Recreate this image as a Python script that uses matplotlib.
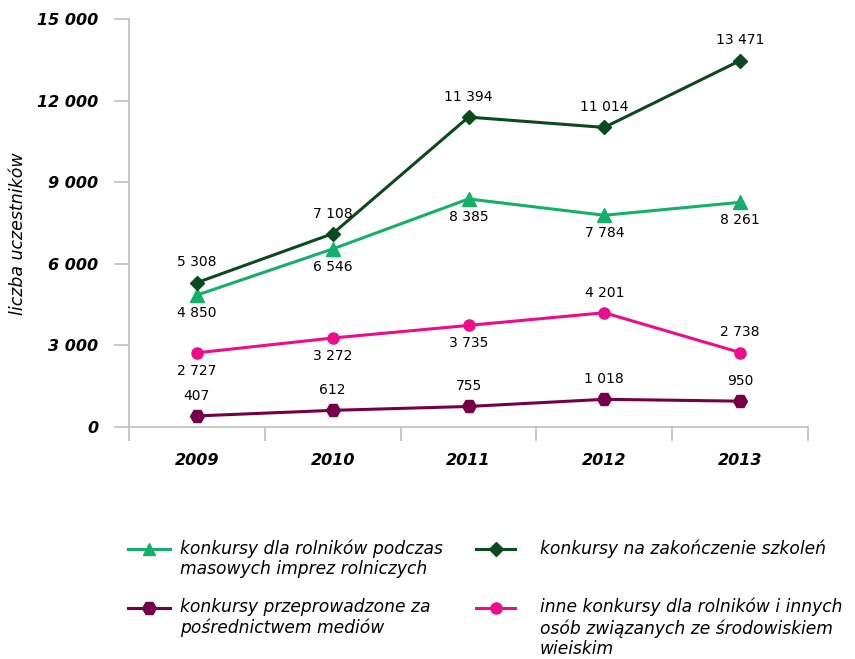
import numpy as np
import matplotlib.pyplot as plt
from matplotlib.lines import Line2D

# data
years = ['2009', '2010', '2011', '2012', '2013']
masowe = [4850, 6546, 8385, 7784, 8261]
szkolenia = [5308, 7108, 11394, 11014, 13471]
media = [407, 612, 755, 1018, 950]
inne = [2727, 3272, 3735, 4201, 2738]

yticks = [0, 3000, 6000, 9000, 12000, 15000]

plt.rcParams['font.family'] = ['DejaVu Sans']

c_light = '#14B06A'
c_dark = '#0B4A1C'
c_maroon = '#760048'
c_pink = '#EC0C8C'
c_axis = '#BFBFBF'

def fmt(v):
    return f'{v:,}'.replace(',', ' ')

fig = plt.figure(figsize=(8.55, 6.59), dpi=100)
ax = fig.add_axes([129 / 855, 1 - 427 / 659, 679 / 855, 408 / 659])

x = np.arange(len(years))

series = [
    (masowe, c_light, '^', 10, ['below'] * 5),
    (szkolenia, c_dark, 'D', 7, ['above'] * 5),
    (media, c_maroon, 'H', 10, ['above'] * 5),
    (inne, c_pink, 'o', 8, ['below', 'below', 'below', 'above', 'above']),
]

for vals, col, mk, ms, pos in series:
    ax.plot(x, vals, color=col, lw=2.2, marker=mk, markersize=ms, zorder=3)
    for xi, v, p in zip(x, vals, pos):
        off = 14.5 if p == 'above' else -13
        ax.annotate(fmt(v), (xi, v), xytext=(0, off), textcoords='offset points',
                    ha='center', va='center', fontsize=10, color='black')

ax.set_xlim(-0.5, 4.5)
ax.set_ylim(0, 15000)
ax.set_yticks(yticks)
ax.set_yticklabels([fmt(t) for t in yticks], fontsize=11.5, fontweight='bold', style='italic')
ax.set_xticks(x)
ax.set_xticklabels(years, fontsize=11.5, fontweight='bold', style='italic')
ax.set_xticks(np.arange(-0.5, 5, 1), minor=True)
ax.tick_params(axis='x', which='major', length=0, pad=19)
ax.tick_params(axis='x', which='minor', length=10, color=c_axis, width=1.2)
ax.tick_params(axis='y', length=11, color=c_axis, width=1.2, pad=11)

for s in ['top', 'right']:
    ax.spines[s].set_visible(False)
for s in ['left', 'bottom']:
    ax.spines[s].set_color(c_axis)
    ax.spines[s].set_linewidth(1.2)

ax.set_ylabel('liczba uczestników', fontsize=12.5, style='italic', labelpad=7)
ax.yaxis.label.set_y(0.475)

# legend drawn by hand
entries = [
    (c_light, '^', 9, 128, 170, 549, 180, 'konkursy dla rolników podczas\nmasowych imprez rolniczych'),
    (c_dark, 'D', 7, 476, 515, 549, 540, 'konkursy na zakończenie szkoleń'),
    (c_maroon, 'H', 10, 128, 170, 608, 180, 'konkursy przeprowadzone za\npośrednictwem mediów'),
    (c_pink, 'o', 8, 476, 515, 608, 540, 'inne konkursy dla rolników i innych\nosób związanych ze środowiskiem\nwieiskim'),
]
W, H = 855, 659
for col, mk, ms, x0, x1, yy, tx, label in entries:
    fig.add_artist(Line2D([x0 / W, x1 / W], [1 - yy / H, 1 - yy / H], color=col, lw=2.2))
    fig.add_artist(Line2D([(x0 + x1) / 2 / W], [1 - yy / H], color=col, marker=mk, markersize=ms))
    fig.text(tx / W, 1 - (yy - 10) / H, label, fontsize=12.3, style='italic',
             va='top', ha='left', linespacing=1.18)

fig.savefig('out.png', dpi=100)
